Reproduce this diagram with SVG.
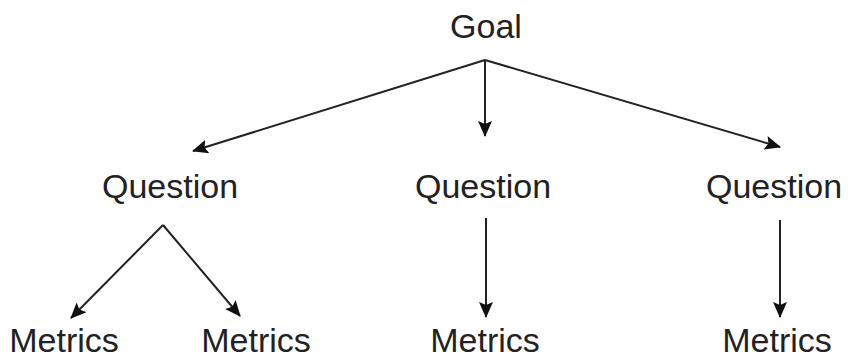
<svg xmlns="http://www.w3.org/2000/svg" width="851" height="360" viewBox="0 0 851 360">
<style>
.t{font-family:"Liberation Sans",Arial,sans-serif;font-size:34px;fill:#222;text-anchor:middle}
.c{stroke:#222;stroke-width:2;fill:none}
</style>
<defs>
<marker id="ah" viewBox="0 0 16 14" refX="15" refY="7" markerWidth="16" markerHeight="14" markerUnits="userSpaceOnUse" orient="auto">
<path d="M0,0 L16,7 L0,14 L3,7 Z" fill="#111"/>
</marker>
</defs>
<rect width="851" height="360" fill="#fff"/>
<g id="connectors">
<line class="c" x1="485" y1="60" x2="193" y2="151" marker-end="url(#ah)"/>
<line class="c" x1="485" y1="60" x2="485" y2="136" marker-end="url(#ah)"/>
<line class="c" x1="485" y1="60" x2="780" y2="147" marker-end="url(#ah)"/>
<line class="c" x1="163" y1="225" x2="71" y2="318" marker-end="url(#ah)"/>
<line class="c" x1="163" y1="225" x2="240" y2="316" marker-end="url(#ah)"/>
<line class="c" x1="486" y1="218" x2="486" y2="317" marker-end="url(#ah)"/>
<line class="c" x1="780" y1="220" x2="780" y2="317" marker-end="url(#ah)"/>
</g>
<g id="goal"><text class="t" x="486" y="38">Goal</text></g>
<g id="q1"><text class="t" x="170" y="198">Question</text></g>
<g id="q2"><text class="t" x="483" y="198">Question</text></g>
<g id="q3"><text class="t" x="774" y="198">Question</text></g>
<g id="m1"><text class="t" x="64" y="352">Metrics</text></g>
<g id="m2"><text class="t" x="256" y="352">Metrics</text></g>
<g id="m3"><text class="t" x="485" y="352">Metrics</text></g>
<g id="m4"><text class="t" x="777" y="352">Metrics</text></g>
</svg>
